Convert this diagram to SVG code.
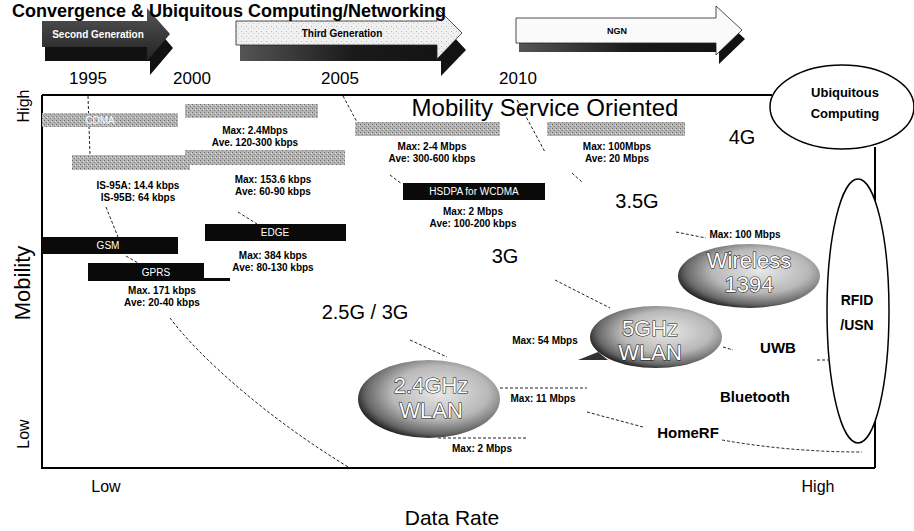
<svg xmlns="http://www.w3.org/2000/svg" width="914" height="531" viewBox="0 0 914 531">
<style>
text{font-family:"Liberation Sans",Arial,sans-serif;fill:#000}
.lbl{font-size:10px;font-weight:bold;text-anchor:middle}
.box{font-size:10px;text-anchor:middle;fill:#fff}
.big{font-size:20px;text-anchor:middle}
.yr{font-size:17px;text-anchor:middle}
.ax{font-size:16px;text-anchor:middle}
.bld{font-size:15px;font-weight:bold;text-anchor:middle}
.blob{font-size:22px;text-anchor:middle;fill:#fff;stroke:#111;stroke-width:1.1;paint-order:stroke}
.dash{fill:none;stroke:#222;stroke-width:1;stroke-dasharray:3 2}
.gray{fill:url(#dither)}
.blk{fill:#0a0a0a}
</style>
<defs>
<pattern id="dither" width="4" height="4" patternUnits="userSpaceOnUse">
<rect width="4" height="4" fill="#b4b4b4"/>
<rect x="0" y="0" width="1" height="1" fill="#6a6a6a"/>
<rect x="2" y="2" width="1" height="1" fill="#7a7a7a"/>
<rect x="3" y="1" width="1" height="1" fill="#e0e0e0"/>
</pattern>
<pattern id="lightdot" width="5" height="5" patternUnits="userSpaceOnUse">
<rect width="5" height="5" fill="#f0f0f0"/>
<rect x="1" y="1" width="1" height="1" fill="#bbb"/>
<rect x="3" y="3" width="1" height="1" fill="#ccc"/>
</pattern>
<linearGradient id="ext" x1="0" y1="0" x2="1" y2="0">
<stop offset="0" stop-color="#555"/>
<stop offset="0.5" stop-color="#1a1a1a"/>
<stop offset="1" stop-color="#111"/>
</linearGradient>
<linearGradient id="darkface" x1="0" y1="0" x2="0" y2="1">
<stop offset="0" stop-color="#555"/>
<stop offset="1" stop-color="#222"/>
</linearGradient>
<radialGradient id="blobg" cx="0.58" cy="0.42" r="0.62">
<stop offset="0" stop-color="#e8e8e8"/>
<stop offset="0.55" stop-color="#b8b8b8"/>
<stop offset="0.85" stop-color="#666"/>
<stop offset="1" stop-color="#1a1a1a"/>
</radialGradient>
</defs>
<rect width="914" height="531" fill="#fff"/>

<g id="arrow-second">
<path d="M45,34 L150,34 L150,21 L173,48 L150,75 L150,61 L45,61 Z" fill="#111"/>
<path d="M42,21 L147,21 L147,8 L170,34 L147,61 L147,47 L42,47 Z" fill="url(#darkface)"/>
<text x="98" y="38" style="font-size:10px;font-weight:bold;text-anchor:middle;fill:#fff">Second Generation</text>
</g>
<g id="arrow-third">
<path d="M240,36 L441,36 L441,23 L466,50 L441,76 L441,61 L240,61 Z" fill="url(#ext)"/>
<path d="M236,21 L437,21 L437,8 L462,33 L437,59 L437,45 L236,45 Z" fill="url(#lightdot)" stroke="#222" stroke-width="0.8"/>
<text x="342" y="37" style="font-size:10px;font-weight:bold;text-anchor:middle">Third Generation</text>
</g>
<g id="arrow-ngn">
<path d="M519,27 L719,27 L719,15 L745,39 L719,64 L719,52 L519,52 Z" fill="url(#ext)"/>
<path d="M516,18 L716,18 L716,6 L742,30 L716,55 L716,43 L516,43 Z" fill="#fafafa" stroke="#222" stroke-width="0.8"/>
<text x="617" y="34" style="font-size:9px;font-weight:bold;text-anchor:middle">NGN</text>
</g>

<g id="title">
<text x="12" y="17" style="font-size:18px;font-weight:bold">Convergence &amp; Ubiquitous Computing/Networking</text>
</g>

<g id="years">
<text class="yr" x="88" y="84">1995</text>
<text class="yr" x="192" y="84">2000</text>
<text class="yr" x="340" y="84">2005</text>
<text class="yr" x="518" y="84">2010</text>
</g>

<g id="axes">
<path d="M42,95 L772,95 M42,95 L42,468 L875,468 M875,147 L875,468" fill="none" stroke="#000" stroke-width="2"/>
<text class="ax" transform="translate(29,106) rotate(-90)">High</text>
<text transform="translate(30,283) rotate(-90)" style="font-size:22px;text-anchor:middle">Mobility</text>
<text class="ax" transform="translate(29,434) rotate(-90)">Low</text>
<text class="ax" x="106" y="492">Low</text>
<text class="ax" x="818" y="492">High</text>
<text x="452" y="525" style="font-size:21px;text-anchor:middle">Data Rate</text>
</g>

<g id="connectors">
<path class="dash" d="M88,96 L90,155"/>
<path class="dash" d="M106,207 L118,237"/>
<path class="dash" d="M126,256 L138,263"/>
<path class="dash" d="M238,212 L257,224"/>
<path class="dash" d="M170,318 C200,358 270,420 350,468"/>
<path class="dash" d="M343,96 L357,122"/>
<path class="dash" d="M390,175 L402,184"/>
<path class="dash" d="M517,100 L545,152"/>
<path class="dash" d="M572,173 L582,182"/>
<path class="dash" d="M676,232 L706,238"/>
<path class="dash" d="M555,280 L610,308"/>
<path class="dash" d="M410,340 L447,357"/>
<path class="dash" d="M500,388 L587,388"/>
<path class="dash" d="M438,438 L527,438"/>
<path class="dash" d="M587,412 L643,427"/>
<path class="dash" d="M722,440 Q790,452 862,452"/>
<path class="dash" d="M723,347 L733,350"/>
<path class="dash" d="M817,360 L828,360"/>
</g>

<g id="cdma">
<rect class="gray" x="42" y="113" width="136" height="14"/>
<text class="box" x="100" y="124">CDMA</text>
</g>
<g id="evdo">
<rect class="gray" x="185" y="104" width="133" height="14"/>
<text class="lbl" x="255" y="134">Max: 2.4Mbps</text>
<text class="lbl" x="255" y="146">Ave. 120-300 kbps</text>
</g>
<g id="is95">
<rect class="gray" x="72" y="155" width="118" height="15"/>
<text class="lbl" x="138" y="189">IS-95A: 14.4 kbps</text>
<text class="lbl" x="138" y="201">IS-95B: 64 kbps</text>
</g>
<g id="cdma1x">
<rect class="gray" x="185" y="150" width="160" height="15"/>
<text class="lbl" x="273" y="183">Max: 153.6 kbps</text>
<text class="lbl" x="273" y="195">Ave: 60-90 kbps</text>
</g>
<g id="edge">
<rect class="blk" x="205" y="224" width="141" height="17"/>
<text class="box" x="275" y="236">EDGE</text>
<text class="lbl" x="273" y="259">Max: 384 kbps</text>
<text class="lbl" x="273" y="271">Ave: 80-130 kbps</text>
</g>
<g id="gsm">
<rect class="blk" x="42" y="237" width="136" height="17"/>
<text class="box" x="108" y="249">GSM</text>
</g>
<g id="gprs">
<rect class="blk" x="88" y="263" width="116" height="18"/>
<rect class="blk" x="204" y="278" width="26" height="3"/>
<text class="box" x="156" y="276">GPRS</text>
<text class="lbl" x="162" y="294">Max. 171 kbps</text>
<text class="lbl" x="162" y="306">Ave: 20-40 kbps</text>
</g>
<g id="gen-labels">
<text class="big" x="365" y="319">2.5G / 3G</text>
<text class="big" x="505" y="263">3G</text>
<text class="big" x="637" y="208">3.5G</text>
<text class="big" x="742" y="144">4G</text>
<text x="545" y="116" style="font-size:24px;text-anchor:middle">Mobility Service Oriented</text>
</g>
<g id="wcdma">
<rect class="gray" x="355" y="122" width="145" height="14"/>
<text class="lbl" x="432" y="150">Max: 2-4 Mbps</text>
<text class="lbl" x="432" y="162">Ave: 300-600 kbps</text>
</g>
<g id="ngn-box">
<rect class="gray" x="547" y="122" width="138" height="14"/>
<text class="lbl" x="617" y="150">Max: 100Mbps</text>
<text class="lbl" x="617" y="162">Ave: 20 Mbps</text>
</g>
<g id="hsdpa">
<rect class="blk" x="403" y="183" width="142" height="17"/>
<text class="box" x="474" y="195">HSDPA for WCDMA</text>
<text class="lbl" x="473" y="215">Max: 2 Mbps</text>
<text class="lbl" x="473" y="227">Ave: 100-200 kbps</text>
</g>
<g id="wireless1394">
<text class="lbl" x="745" y="238">Max: 100 Mbps</text>
<ellipse cx="749" cy="276" rx="71" ry="32" fill="url(#blobg)"/>
<text class="blob" x="749" y="268">Wireless</text>
<text class="blob" x="749" y="292">1394</text>
</g>
<g id="wlan5">
<path d="M598,352 L578,360 L608,360 Z" fill="#333"/>
<ellipse cx="656" cy="337" rx="66" ry="31" fill="url(#blobg)"/>
<text class="blob" x="650" y="336">5GHz</text>
<text class="blob" x="650" y="360">WLAN</text>
<text class="lbl" x="545" y="344">Max: 54 Mbps</text>
</g>
<g id="wlan24">
<ellipse cx="429" cy="399" rx="71" ry="39" fill="url(#blobg)"/>
<text class="blob" x="431" y="393">2.4GHz</text>
<text class="blob" x="431" y="418">WLAN</text>
<text class="lbl" x="543" y="402">Max: 11 Mbps</text>
<text class="lbl" x="482" y="452">Max: 2 Mbps</text>
</g>
<g id="pan">
<text class="bld" x="778" y="353">UWB</text>
<text class="bld" x="755" y="402">Bluetooth</text>
<text class="bld" x="688" y="438">HomeRF</text>
</g>
<g id="ubiquitous">
<ellipse cx="842" cy="107" rx="72" ry="42" fill="#fff" stroke="#000" stroke-width="1.5"/>
<text x="845" y="97" style="font-size:13px;font-weight:bold;text-anchor:middle">Ubiquitous</text>
<text x="845" y="118" style="font-size:13px;font-weight:bold;text-anchor:middle">Computing</text>
</g>
<g id="rfid">
<ellipse cx="858" cy="311" rx="31" ry="132" fill="#fff" stroke="#000" stroke-width="1.5"/>
<text x="857" y="305" style="font-size:14px;font-weight:bold;text-anchor:middle">RFID</text>
<text x="857" y="330" style="font-size:14px;font-weight:bold;text-anchor:middle">/USN</text>
</g>
</svg>
